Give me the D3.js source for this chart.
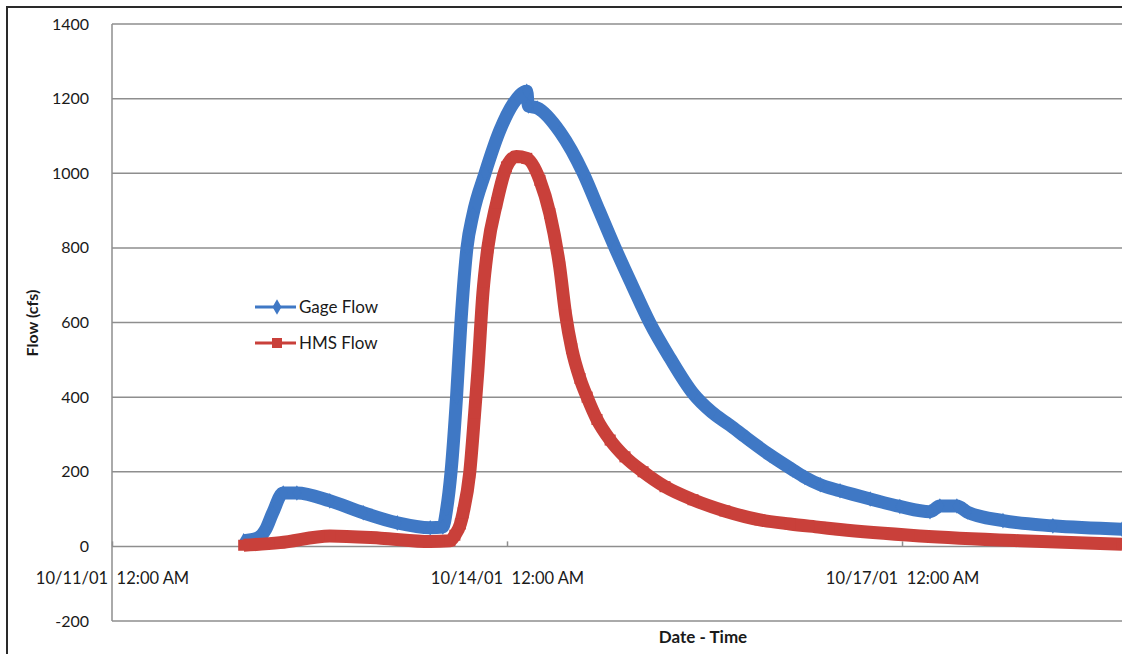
<!DOCTYPE html>
<html>
<head>
<meta charset="utf-8">
<script src="https://cdn.jsdelivr.net/npm/d3@7"></script>
<style>
  html, body { margin: 0; padding: 0; background: #fff; }
  svg { display: block; }
  text { font-family: Lato, "Open Sans", sans-serif; fill: #1a1a1a; }
</style>
</head>
<body>
<svg id="chart" width="1122" height="654"></svg>
<script>
// ---- data (hours after 10/11/01 12:00 AM, flow in cfs) ----
const seriesNames = ["Gage Flow", "HMS Flow"];
const gageHours = [24, 26.5, 28, 29.3, 31.2, 33.7, 39.7, 45.8, 52, 58, 60.3, 61, 61.8, 62.8, 63.6, 64.7, 65.8, 68, 70.7, 73.1, 75.6, 75.9, 77.5, 81.7, 85.9, 88.8, 91.7, 94.8, 98, 101.7, 105.9, 109.3, 112.6, 115.7, 119.9, 124.1, 126.3, 129.1, 132.7, 138.2, 143.6, 149.1, 150.9, 154, 155.9, 162.4, 171.5, 184.1];
const gageFlow  = [15, 22, 45, 90, 143, 143, 122, 90, 63, 50, 52, 100, 200, 400, 600, 800, 890, 1000, 1115, 1186, 1220, 1180, 1175, 1110, 1000, 900, 800, 700, 600, 505, 410, 360, 325, 290, 245, 205, 185, 165, 149, 127, 107, 93, 108, 108, 92, 69, 55, 46];
const hmsHours  = [24, 30.6, 39.7, 49, 58, 61.6, 62.5, 63.5, 64, 65.2, 66.1, 66.7, 67.6, 68.5, 70.1, 71.9, 73.7, 75.6, 78, 79.8, 81.6, 82.7, 83.8, 85.3, 86.6, 88.4, 90.8, 93.5, 96.8, 100.8, 105.9, 111.7, 118.1, 123.6, 129.1, 132.7, 147.3, 165.5, 184.1];
const hmsFlow   = [3, 10, 28, 22, 13, 15, 30, 60, 90, 197, 357, 472, 678, 800, 920, 1017, 1045, 1040, 981, 892, 749, 620, 530, 450, 400, 340, 285, 240, 200, 160, 125, 95, 71, 60, 51, 45, 28, 15, 6];
const yTicks = [-200, 0, 200, 400, 600, 800, 1000, 1200, 1400];
const xTickDays = [0, 3, 6];

const startDate = new Date(2001, 9, 11, 0, 0);
const toDate = h => d3.timeMinute.offset(startDate, Math.round(h * 60));
const gage = gageHours.map((h, i) => ({ t: toDate(h), v: gageFlow[i] }));
const hms  = hmsHours.map((h, i) => ({ t: toDate(h), v: hmsFlow[i] }));

const svg = d3.select("#chart");
const plotLeft = 112, plotTop = 24, plotBottom = 621;
const dayPx = 131.67;

const x = d3.scaleTime()
  .domain([startDate, d3.timeDay.offset(startDate, 8)])
  .range([plotLeft, plotLeft + 8 * dayPx]);
const y = d3.scaleLinear().domain([-200, 1400]).range([plotBottom, plotTop]);

// outer chart border (only top and left visible)
svg.append("rect").attr("x", 7).attr("y", 7).attr("width", 1140).attr("height", 680)
  .attr("fill", "none").attr("stroke", "#2a2a2a").attr("stroke-width", 2);

const gridColor = "#8e8e8e";
// horizontal gridlines
svg.append("g").selectAll("line").data(yTicks).join("line")
  .attr("x1", plotLeft).attr("x2", 1130)
  .attr("y1", d => y(d)).attr("y2", d => y(d))
  .attr("stroke", gridColor).attr("stroke-width", 1.5);
// left plot border
svg.append("line").attr("x1", plotLeft).attr("x2", plotLeft).attr("y1", plotTop).attr("y2", plotBottom)
  .attr("stroke", gridColor).attr("stroke-width", 1.5);

// y tick labels
svg.append("g").selectAll("text").data(yTicks).join("text")
  .attr("x", 89).attr("y", d => y(d)).attr("dy", "0.35em")
  .attr("text-anchor", "end").style("font-size", "16px")
  .text(d => d);

// x axis at zero
const xTicks = xTickDays.map(dd => d3.timeDay.offset(startDate, dd));
const fmt = d3.timeFormat("%m/%d/%y");
const xAxis = d3.axisBottom(x).tickValues(xTicks).tickSizeInner(-5).tickSizeOuter(0)
  .tickFormat(d => fmt(d) + "  12:00 AM");
const gx = svg.append("g").attr("transform", `translate(0,${y(0)})`).call(xAxis);
gx.select(".domain").remove();
gx.selectAll(".tick line").attr("stroke", gridColor).attr("stroke-width", 1.5);
gx.selectAll(".tick text").attr("y", 38).attr("dy", "0")
  .style("font-size", "16.5px").style("white-space", "pre")
  .style("font-family", "Lato, 'Open Sans', sans-serif").attr("fill", "#1a1a1a");

// axis titles
svg.append("text").attr("transform", "translate(38,323) rotate(-90)")
  .attr("text-anchor", "middle").style("font-size", "16px").style("font-weight", "bold")
  .text("Flow (cfs)");
svg.append("text").attr("x", 703).attr("y", 643)
  .attr("text-anchor", "middle").style("font-size", "17px").style("font-weight", "bold")
  .text("Date - Time");

const blue = "#3f78c5", red = "#c9403a";
const line = d3.line().x(d => x(d.t)).y(d => y(d.v)).curve(d3.curveMonotoneX);

const diamond = d3.symbol().type(d3.symbolDiamond).size(70);
const square = d3.symbol().type(d3.symbolSquare).size(121);

// Gage
svg.append("path").datum(gage).attr("d", line).attr("fill", "none")
  .attr("stroke", blue).attr("stroke-width", 13).attr("stroke-linejoin", "round").attr("stroke-linecap", "butt");
svg.append("g").selectAll("path").data(gage).join("path")
  .attr("transform", d => `translate(${x(d.t)},${y(d.v)})`).attr("d", diamond).attr("fill", blue);
// HMS
svg.append("path").datum(hms).attr("d", line).attr("fill", "none")
  .attr("stroke", red).attr("stroke-width", 13).attr("stroke-linejoin", "round").attr("stroke-linecap", "butt");
svg.append("g").selectAll("path").data(hms).join("path")
  .attr("transform", d => `translate(${x(d.t)},${y(d.v)})`).attr("d", square).attr("fill", red);

// legend
const legend = svg.append("g");
const legendItems = [
  { name: seriesNames[0], color: blue, sym: d3.symbol().type(d3.symbolDiamond).size(70), ly: 307 },
  { name: seriesNames[1], color: red, sym: d3.symbol().type(d3.symbolSquare).size(100), ly: 343 }
];
legendItems.forEach(it => {
  legend.append("line").attr("x1", 255).attr("x2", 296).attr("y1", it.ly).attr("y2", it.ly)
    .attr("stroke", it.color).attr("stroke-width", 3);
  legend.append("path").attr("transform", `translate(277,${it.ly})`).attr("d", it.sym).attr("fill", it.color);
  legend.append("text").attr("x", 299).attr("y", it.ly).attr("dy", "0.35em")
    .style("font-size", "17px").text(it.name);
});
</script>
</body>
</html>
